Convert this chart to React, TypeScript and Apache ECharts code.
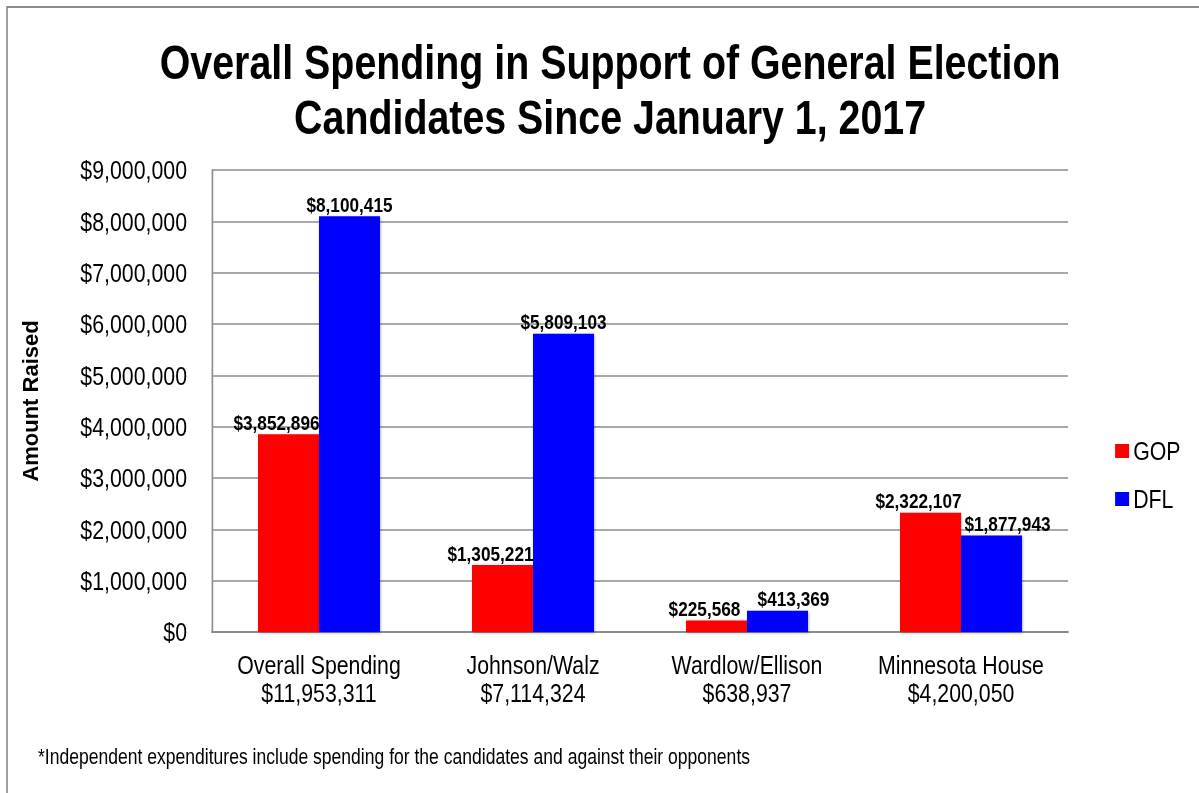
import React, { useEffect, useRef } from "react";
import * as echarts from "echarts";

const categories = [
  "Overall Spending\n$11,953,311",
  "Johnson/Walz\n$7,114,324",
  "Wardlow/Ellison\n$638,937",
  "Minnesota House\n$4,200,050",
];
const gopValues = [3852896, 1305221, 225568, 2322107];
const dflValues = [8100415, 5809103, 413369, 1877943];
const yTicks = { min: 0, max: 9000000, interval: 1000000 };

const FONT = "'Liberation Sans', Arial, sans-serif";
// The reference uses a condensed face; render wider and squeeze horizontally.
const PAGE_W = 1199;
const PAGE_H = 793;
const INNER_W = 1462;
const S = PAGE_W / INNER_W;
const X = (px: number) => px / S;

function money(v: number): string {
  return "$" + Math.round(v).toLocaleString("en-US");
}

export default function App() {
  const ref = useRef<HTMLDivElement>(null);
  useEffect(() => {
    if (!ref.current) return;
    const chart = echarts.init(ref.current, undefined, { renderer: "svg" });
    const labelStyle = {
      show: true,
      position: "top" as const,
      distance: 1,
      formatter: (p: any) => money(p.value),
      fontFamily: FONT,
      fontWeight: "bold" as const,
      fontSize: 21,
      color: "#000",
    };
    const gridLeft = X(212);
    const gridRight = INNER_W - X(1068);
    chart.setOption({
      animation: false,
      backgroundColor: "#fff",
      textStyle: { fontFamily: FONT },
      title: {
        text: "Overall Spending in Support of General Election\nCandidates Since January 1, 2017",
        left: X(606),
        top: 30,
        textAlign: "center",
        textStyle: {
          fontFamily: FONT,
          fontWeight: "bold",
          fontSize: 48,
          lineHeight: 55,
          color: "#000",
        },
      },
      legend: {
        orient: "vertical",
        left: X(1111),
        top: 433,
        itemWidth: X(14),
        itemHeight: 14,
        itemGap: 22,
        icon: "rect",
        textStyle: { fontFamily: FONT, fontSize: 26, color: "#000" },
        data: ["GOP", "DFL"],
      },
      grid: { left: gridLeft, top: 170, right: gridRight, bottom: 161, containLabel: false },
      xAxis: {
        type: "category",
        data: categories,
        axisLine: { lineStyle: { color: "#8c8c8c", width: 2 } },
        axisTick: { show: false },
        axisLabel: {
          interval: 0,
          fontFamily: FONT,
          fontSize: 26,
          lineHeight: 28,
          color: "#000",
          margin: 19,
        },
      },
      yAxis: {
        type: "value",
        min: yTicks.min,
        max: yTicks.max,
        interval: yTicks.interval,
        axisLine: { show: true, lineStyle: { color: "#8c8c8c", width: 2 } },
        axisTick: { show: false },
        splitLine: { lineStyle: { color: "#8c8c8c", width: 1.5 } },
        axisLabel: {
          fontFamily: FONT,
          fontSize: 26,
          color: "#000",
          margin: gridLeft - X(187),
          formatter: (v: number) => money(v),
        },
      },
      series: [
        {
          name: "GOP",
          type: "bar",
          data: gopValues,
          barGap: "0%",
          barCategoryGap: "43%",
          itemStyle: { color: "#ff0000", shadowBlur: 3, shadowColor: "rgba(0,0,0,0.3)", shadowOffsetX: 1, shadowOffsetY: 1 },
          label: { ...labelStyle, offset: [X(-12), 0] },
        },
        {
          name: "DFL",
          type: "bar",
          data: dflValues.map((v, i) =>
            i >= 2 ? { value: v, label: { offset: [X(16), 0] } } : v
          ),
          itemStyle: { color: "#0000ff", shadowBlur: 3, shadowColor: "rgba(0,0,0,0.3)", shadowOffsetX: 1, shadowOffsetY: 1 },
          label: labelStyle,
        },
      ],
      graphic: [
        {
          type: "rect",
          shape: { x: X(7), y: 7, width: INNER_W + 20, height: PAGE_H + 20 },
          style: { fill: "none", stroke: "#8c8c8c", lineWidth: 2 },
          silent: true,
        },
        {
          type: "text",
          x: X(31),
          y: 401,
          rotation: Math.PI / 2,
          scaleY: 1 / S,
          style: {
            text: "Amount Raised",
            fontFamily: FONT,
            fontWeight: "bold",
            fontSize: 22,
            fill: "#000",
            align: "center",
            verticalAlign: "middle",
          },
        },
        {
          type: "text",
          left: X(38),
          top: 746,
          style: {
            text: "*Independent expenditures include spending for the candidates and against their opponents",
            fontFamily: FONT,
            fontSize: 21.4,
            fill: "#000",
          },
        },
      ],
    });
    return () => chart.dispose();
  }, []);
  return (
    <div
      ref={ref}
      style={{
        position: "fixed",
        left: 0,
        top: 0,
        width: INNER_W,
        height: PAGE_H,
        transform: `scaleX(${S})`,
        transformOrigin: "0 0",
      }}
    />
  );
}
